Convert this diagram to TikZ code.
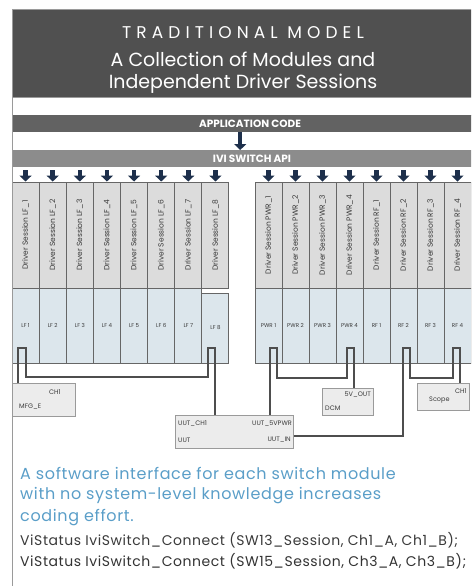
\documentclass[tikz,border=0pt]{standalone}
\usepackage{fontspec}
\setmainfont{Poppins}
\newfontfamily\spacedfont[LetterSpace=30]{Poppins}
\newfontfamily\widefont[LetterSpace=4]{Poppins}
\usetikzlibrary{arrows.meta, positioning, calc}

\definecolor{titlegray}{HTML}{505050}
\definecolor{appgray}{HTML}{626262}
\definecolor{apigray}{HTML}{8C8C8C}
\definecolor{framegray}{HTML}{9A9A9A}
\definecolor{linegray}{HTML}{666666}
\definecolor{wiregray}{HTML}{4E4E4E}
\definecolor{sessiongray}{HTML}{DCDCDC}
\definecolor{cellblue}{HTML}{DCE6EC}
\definecolor{boxgray}{HTML}{ECECEC}
\definecolor{navy}{HTML}{1D2F4B}
\definecolor{noteblue}{HTML}{5A9EC8}
\definecolor{codegray}{HTML}{3A3A3A}

\begin{document}
\begin{tikzpicture}[x=1pt, y=-1pt,
    band/.style={rectangle, inner sep=0pt, anchor=north west, minimum width=468pt},
    bandtext/.style={text=white, font=\bfseries\fontsize{10.5}{11}\selectfont},
    session/.style={rectangle, draw=linegray, fill=sessiongray, line width=0.9pt,
      rotate=90, minimum width=106pt, minimum height=27pt, inner sep=0pt,
      text=codegray, font=\fontsize{7.5}{8}\selectfont},
    cell/.style={rectangle, draw=linegray, fill=cellblue, line width=0.9pt,
      minimum width=27pt, minimum height=75pt, inner sep=0pt,
      text=codegray, font=\fontsize{5.5}{6}\selectfont},
    port/.style={draw=wiregray, line width=1.2pt},
    wire/.style={draw=wiregray, line width=1.1pt},
    devbox/.style={rectangle, draw=framegray, fill=boxgray, line width=1pt,
      anchor=north west, inner sep=0pt},
    boxtext/.style={inner sep=0pt, text=codegray, font=\fontsize{6.5}{7}\selectfont},
    drop/.style={-{Triangle[width=12pt,length=6pt]}, line width=4.5pt, draw=navy},
    note/.style={anchor=west, inner sep=0pt, text=noteblue, font=\widefont\fontsize{16}{17}\selectfont},
    code/.style={anchor=west, inner sep=0pt, text=codegray, font=\widefont\fontsize{14}{15}\selectfont}
  ]
  \useasboundingbox (0,0) rectangle (471,586);
  \clip (0,0) rectangle (471,586);

  % title and the two software layers
  \node[band, fill=titlegray, minimum height=87pt] (title) at (12,10) {};
  \node[text=white, font=\spacedfont\fontsize{17}{19}\selectfont] (head) at (243,33) {TRADITIONAL MODEL};
  \node[text=white, font=\fontsize{19}{22}\selectfont, align=center] (sub) at (243,73)
    {A Collection of Modules and\\Independent Driver Sessions};
  \node[band, draw=framegray, fill=white, minimum height=18pt] (gap) at (12,97) {};
  \node[band, fill=appgray, minimum height=17pt] (app) at (12,115) {};
  \node[bandtext] (applbl) at (250,123.5) {APPLICATION CODE};
  \node[band, fill=apigray, minimum height=17pt] (api) at (12,150) {};
  \node[bandtext] (apilbl) at (252,158.5) {IVI SWITCH API};
  \draw[drop] ([xshift=-6pt]app.south) -- ([xshift=-6pt]api.north);

  % switch modules: driver sessions on top, channels below
  \foreach \i in {1,...,8} {
    \node[session] (lf\i) at ({12+27.125*(\i-0.5)},235) {Driver Session LF\_\i};
    \draw[drop] ([yshift=-3pt]lf\i.east |- api.south) -- (lf\i.east);
  }
  \foreach \i in {1,...,7}
    \node[cell] (lfc\i) at ({12+27.125*(\i-0.5)},325.5) {LF \i};
  \node[cell, minimum height=70pt] (lfc8) at ({12+27.125*7.5},328) {LF 8};
  \foreach \i in {1,...,4} {
    \node[session] (pwr\i) at ({255+27*(\i-0.5)},235) {Driver Session PWR\_\i};
    \node[session] (rf\i) at ({363+27*(\i-0.5)},235) {Driver Session RF\_\i};
    \node[cell] (pwrc\i) at ({255+27*(\i-0.5)},325.5) {PWR \i};
    \node[cell] (rfc\i) at ({363+27*(\i-0.5)},325.5) {RF \i};
    \draw[drop] ([yshift=-3pt]pwr\i.east |- api.south) -- (pwr\i.east);
    \draw[drop] ([yshift=-3pt]rf\i.east |- api.south) -- (rf\i.east);
  }

  % channel ports
  \coordinate (lf1a) at (18,363);   \coordinate (lf1b) at (26,363);
  \coordinate (lf8a) at (208,363);  \coordinate (lf8b) at (215,363);
  \coordinate (pwr1a) at (270,363); \coordinate (pwr1b) at (277,363);
  \coordinate (pwr4a) at (347,363); \coordinate (pwr4b) at (354,363);
  \coordinate (rf2a) at (403,363);  \coordinate (rf2b) at (410,363);
  \coordinate (rf4a) at (453,363);  \coordinate (rf4b) at (460,363);
  \foreach \p in {lf1,lf8,pwr1,pwr4,rf2,rf4}
    \draw[port] (\p a) -- ++(0,-15) -| (\p b);

  % instruments and the unit under test
  \node[devbox, minimum width=63pt, minimum height=33pt] (mfg) at (12,383) {};
  \node[boxtext] (mfgch) at ($(mfg.north west)+(43,9)$) {CH1};
  \node[boxtext, anchor=west] (mfglbl) at ($(mfg.north west)+(7,24)$) {MFG\_E};
  \node[devbox, minimum width=118pt, minimum height=33pt] (uut) at (175,415) {};
  \node[boxtext, anchor=west] (uutch) at ($(uut.north west)+(3,9)$) {UUT\_CH1};
  \node[boxtext, anchor=east] (uutpwr) at ($(uut.north east)+(-2,9)$) {UUT\_5VPWR};
  \node[boxtext, anchor=west] (uutlbl) at ($(uut.north west)+(3,25)$) {UUT};
  \node[boxtext, anchor=east] (uutin) at ($(uut.north east)+(-3,25)$) {UUT\_IN};
  \node[devbox, minimum width=51pt, minimum height=27pt] (dcm) at (322,388) {};
  \node[boxtext, anchor=east] (dcmout) at ($(dcm.north east)+(-3,7)$) {5V\_OUT};
  \node[boxtext, anchor=west] (dcmlbl) at ($(dcm.north west)+(3,20)$) {DCM};
  \node[devbox, minimum width=52pt, minimum height=27pt] (scope) at (417,383) {};
  \node[boxtext, anchor=east] (scopech) at ($(scope.north east)+(-3,8)$) {CH1};
  \node[boxtext, anchor=west] (scopelbl) at ($(scope.north west)+(12,17)$) {Scope};

  % wiring
  \draw[wire] (lf1a) -- (lf1a |- mfg.north);
  \draw[wire] (lf1b) -- ++(0,14) -| (lf8a);
  \draw[wire] (lf8b) -- (lf8b |- uut.north);
  \draw[wire] (pwr1a) -- (pwr1a |- uut.north);
  \draw[wire] (pwr1b) -- ++(0,15) -| (pwr4a);
  \draw[wire] (pwr4b) -- (pwr4b |- dcm.north);
  \draw[wire] (rf2a) |- ([yshift=-4pt]uut.east);
  \draw[wire] (rf2b) -- ++(0,15) -| (rf4a);
  \draw[wire] (rf4b) -- (rf4b |- scope.north);

  % notes
  \node[note] (n1) at (20,473) {A software interface for each switch module};
  \node[note] (n2) at (20,496) {with no system-level knowledge increases};
  \node[note] (n3) at (20,518) {coding effort.};
  \node[code] (c1) at (20,540) {ViStatus IviSwitch\_Connect (SW13\_Session, Ch1\_A, Ch1\_B);};
  \node[code, text=black!80] (c2) at (20,561) {ViStatus IviSwitch\_Connect (SW15\_Session, Ch3\_A, Ch3\_B);};

  \draw[framegray, line width=1pt] (12,10) rectangle (490,600);
\end{tikzpicture}
\end{document}
